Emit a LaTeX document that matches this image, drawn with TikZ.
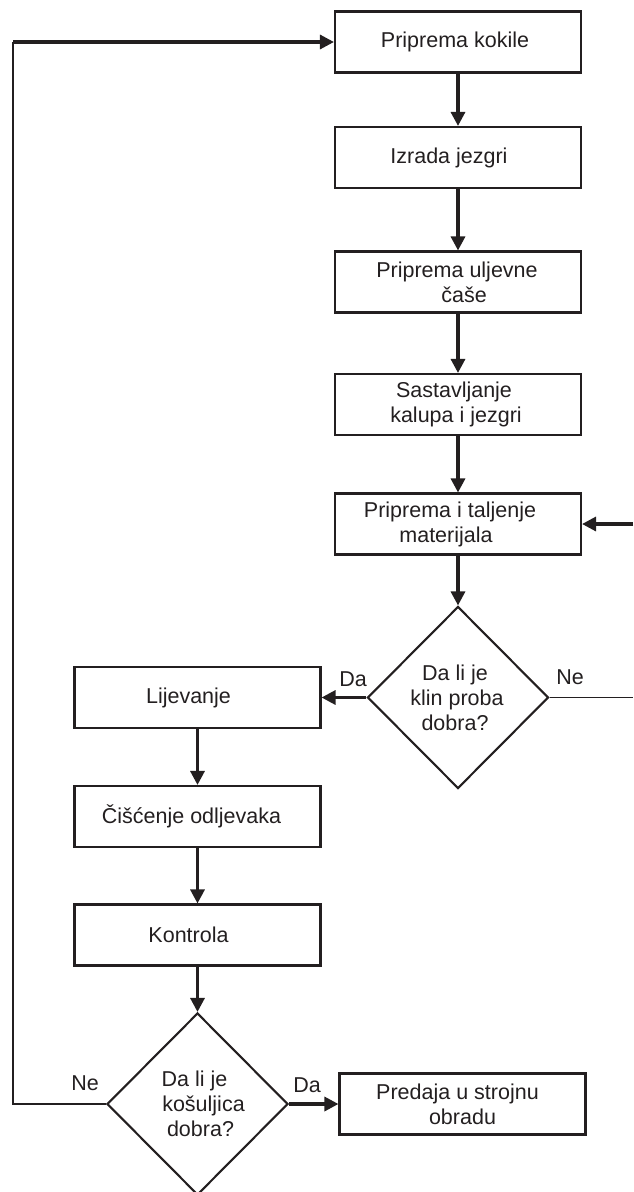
\documentclass[tikz,border=0pt]{standalone}
\usepackage{fontspec}
\setmainfont{Liberation Sans}
\usetikzlibrary{shapes.geometric,arrows.meta}
\definecolor{ink}{HTML}{231F20}
\tikzset{
  txt/.style={text=ink, font=\fontsize{21.5}{25}\selectfont},
  procbox/.style={txt, draw=ink, line width=2.1pt, minimum width=246pt, minimum height=61pt, inner sep=0pt, align=center},
  decision/.style={txt, diamond, aspect=1, draw=ink, line width=2.1pt, minimum width=181pt, minimum height=182pt, inner sep=0pt, align=center},
  flow/.style={draw=ink, line width=3.2pt, -{Triangle[length=14pt,width=14pt]}},
  thinline/.style={draw=ink, line width=1.5pt},
  lbl/.style={txt, inner sep=0pt}
}
\begin{document}
\begin{tikzpicture}[x=1pt,y=-1pt]
\useasboundingbox (0,0) rectangle (633,1192);
% right column
\node[procbox] (b1) at (458,42) {Priprema kokile\kern6pt};
\node[procbox] (b2) at (458,157.5) {Izrada jezgri\kern18pt};
\node[procbox] (b3) at (458,282) {Priprema uljevne\kern2pt\\\kern12pt čaše};
\node[procbox] (b4) at (458,404.5) {Sastavljanje\kern8pt\\kalupa i jezgri\kern4pt};
\node[procbox] (b5) at (458,524) {Priprema i taljenje\kern16pt\\materijala\kern24pt};
\node[decision] (d1) at (458,697.5) {Da li je\kern6pt\\klin proba\kern2pt\\dobra?\kern6pt};
% left column
\node[procbox] (lij) at (197.5,697.5) {Lijevanje\kern18pt};
\node[procbox] (cis) at (197.5,816.5) {Čišćenje odljevaka\kern12pt};
\node[procbox] (kon) at (197.5,935) {Kontrola\kern18pt};
\node[decision] (d2) at (197.5,1104) {Da li je\kern6pt\\\kern12pt košuljica\\\kern6pt dobra?};
\node[procbox] (pred) at (462.5,1104) {Predaja u strojnu\kern10pt\\obradu};
% labels
\node[lbl] (da1) at (353,679) {Da};
\node[lbl] (ne1) at (570,677) {Ne};
\node[lbl] (ne2) at (85,1083) {Ne};
\node[lbl] (da2) at (307,1085) {Da};
% free ends
\coordinate (in1) at (633,524);
\coordinate (out1) at (633,697.5);
\coordinate (lc1) at (13,1104);
\coordinate (lc2) at (13,42);
% connectors
\draw[flow] (b1) -- (b2);
\draw[flow] (b2) -- (b3);
\draw[flow] (b3) -- (b4);
\draw[flow] (b4) -- (b5);
\draw[flow] (b5) -- (d1);
\draw[flow] (in1) -- (b5.east);
\draw[thinline] (d1.east) -- (out1);
\draw[flow] (d1.west) -- (lij.east);
\draw[flow] (lij) -- (cis);
\draw[flow] (cis) -- (kon);
\draw[flow] (kon) -- (d2);
\draw[flow] (d2.east) -- (pred.west);
\draw[thinline] (d2.west) -- (lc1) -- (lc2);
\draw[flow] (lc2) -- (b1.west);
\end{tikzpicture}
\end{document}
